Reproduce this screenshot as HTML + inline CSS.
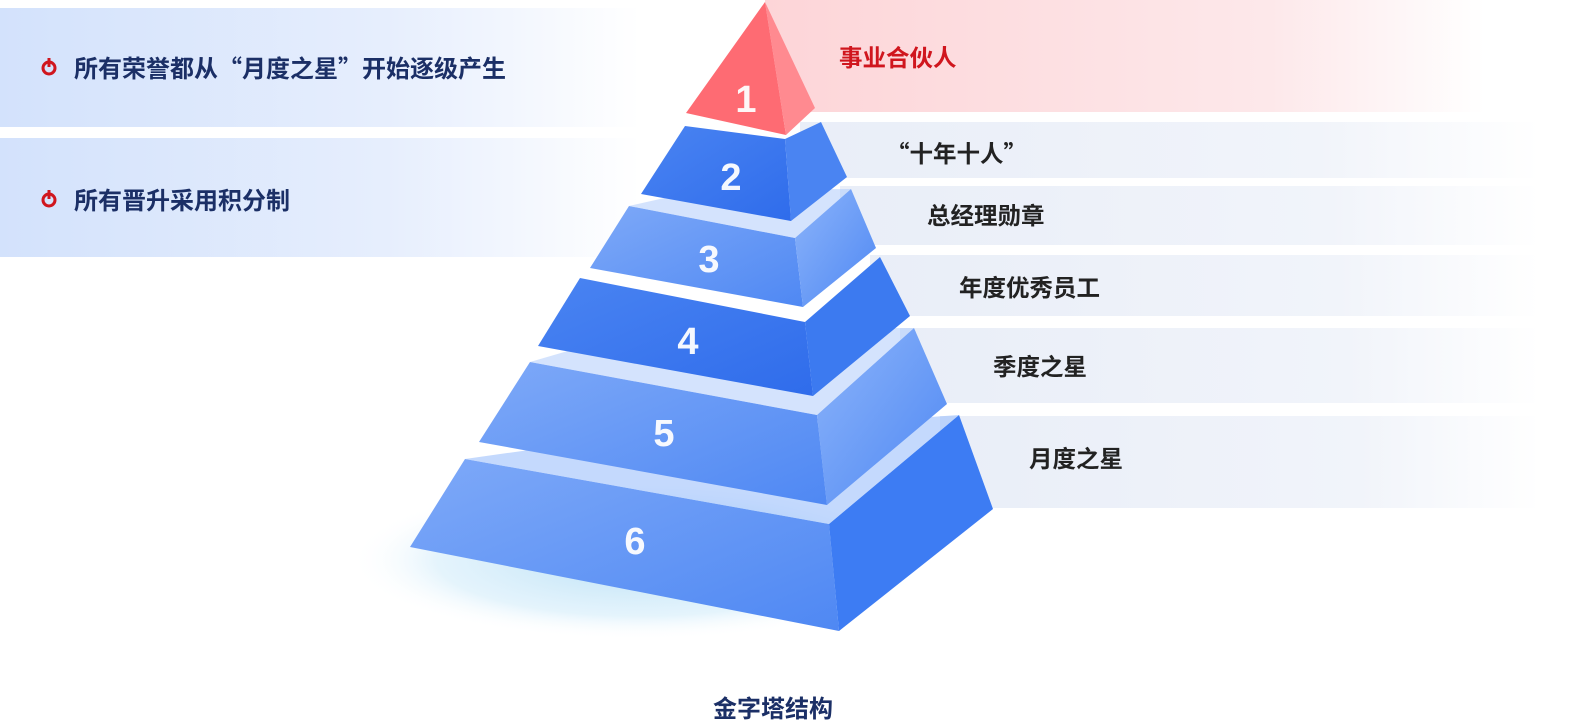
<!DOCTYPE html>
<html><head><meta charset="utf-8"><style>
html,body{margin:0;padding:0;background:#fff;width:1571px;height:723px;overflow:hidden}
svg{display:block}
text{font-family:"Liberation Sans","Noto Sans CJK SC",sans-serif;font-weight:bold}
.cjk{font-family:"Noto Sans CJK SC","Liberation Sans",sans-serif}
</style></head><body>
<svg width="1571" height="723" viewBox="0 0 1571 723" xmlns="http://www.w3.org/2000/svg">
<defs>
<linearGradient id="lb" x1="0" x2="1" y1="0" y2="0"><stop offset="0" stop-color="#d3e2fc"/><stop offset="0.6" stop-color="#e6eefd"/><stop offset="1" stop-color="#ffffff"/></linearGradient>
<linearGradient id="rb" x1="0" x2="1" y1="0" y2="0"><stop offset="0" stop-color="#fdd5d8"/><stop offset="0.7" stop-color="#fde8ea"/><stop offset="1" stop-color="#ffffff"/></linearGradient>
<linearGradient id="gb" x1="0" x2="1" y1="0" y2="0"><stop offset="0" stop-color="#e9eef8"/><stop offset="0.7" stop-color="#f1f4fa"/><stop offset="1" stop-color="#ffffff"/></linearGradient>
<linearGradient id="ff" x1="0" x2="1" y1="0" y2="1"><stop offset="0" stop-color="#7ea9f8"/><stop offset="1" stop-color="#4f88f3"/></linearGradient>
<linearGradient id="fd" x1="0" x2="1" y1="0" y2="1"><stop offset="0" stop-color="#4a84f2"/><stop offset="1" stop-color="#2f6ceb"/></linearGradient>
<linearGradient id="sf" x1="0" x2="1" y1="0" y2="1"><stop offset="0" stop-color="#8cb4fa"/><stop offset="1" stop-color="#4f88f3"/></linearGradient>
<radialGradient id="sh" cx="0.5" cy="0.5" r="0.5"><stop offset="0" stop-color="#b9e0f6"/><stop offset="0.7" stop-color="#d9effb" stop-opacity="0.7"/><stop offset="1" stop-color="#ffffff" stop-opacity="0"/></radialGradient>
</defs>
<rect x="0" y="8" width="640" height="119" fill="url(#lb)"/>
<rect x="0" y="138" width="640" height="119" fill="url(#lb)"/>
<rect x="765" y="0" width="720" height="112" fill="url(#rb)"/>
<rect x="800" y="122" width="740" height="56" fill="url(#gb)"/>
<rect x="840" y="186" width="700" height="59" fill="url(#gb)"/>
<rect x="870" y="255" width="670" height="61" fill="url(#gb)"/>
<rect x="900" y="328" width="640" height="75" fill="url(#gb)"/>
<rect x="940" y="416" width="600" height="92" fill="url(#gb)"/>
<ellipse cx="640" cy="560" rx="290" ry="80" fill="url(#sh)"/>
<polygon points="465,459 829,524 839,631 410,547" fill="url(#ff)"/>
<polygon points="829,524 959,415 993,509 839,631" fill="#3d7cf3"/>
<polygon points="465,459 829,524 959,415 600,440" fill="#9dc0fb" opacity="0.6"/>
<polygon points="530,362 817,415 827,505 479,442" fill="url(#ff)"/>
<polygon points="817,415 914,328 947,404 827,505" fill="url(#sf)"/>
<polygon points="530,362 817,415 914,328 640,330" fill="#a9c7fb" opacity="0.5"/>
<polygon points="580,278 805,322 813,396 538,346" fill="url(#fd)"/>
<polygon points="805,322 880,257 910,316 813,396" fill="#3c7af0"/>
<polygon points="629,206 795,238 803,307 590,268" fill="url(#ff)"/>
<polygon points="795,238 851,189 876,248 803,307" fill="url(#sf)"/>
<polygon points="629,206 795,238 851,189 700,190" fill="#a9c7fb" opacity="0.5"/>
<polygon points="685,126 785,139 791,221 641,194" fill="url(#fd)"/>
<polygon points="785,139 821,122 847,177 791,221" fill="#4a84f2"/>
<polygon points="765,2 786,135 686,113" fill="#fe6b73"/>
<polygon points="765,2 815,108 786,135" fill="#ff8a90"/>
<g fill="#fff" font-size="38" text-anchor="middle" opacity="0.95">
<text x="746" y="112">1</text>
<text x="731" y="190">2</text>
<text x="709" y="272">3</text>
<text x="688" y="354">4</text>
<text x="664" y="446">5</text>
<text x="635" y="554">6</text>
</g>
<g><circle cx="49" cy="68" r="6" fill="none" stroke="#d0161e" stroke-width="3"/><rect x="47.5" y="58" width="3" height="9" fill="#d0161e"/>
<circle cx="49" cy="200" r="6" fill="none" stroke="#d0161e" stroke-width="3"/><rect x="47.5" y="190" width="3" height="9" fill="#d0161e"/></g>
<g fill="#1b2f66" font-size="24" class="cjk">
<text x="74" y="77" class="cjk">所有荣誉都从“月度之星”开始逐级产生</text>
<text x="74" y="209" class="cjk">所有晋升采用积分制</text>
<text x="773" y="717" text-anchor="middle" class="cjk">金字塔结构</text>
</g>
<text x="839" y="66" fill="#d0161e" font-size="23.5" class="cjk">事业合伙人</text>
<g fill="#222" font-size="23.5">
<text x="886" y="162" class="cjk">“十年十人”</text>
<text x="927" y="224" class="cjk">总经理勋章</text>
<text x="959" y="296" class="cjk">年度优秀员工</text>
<text x="993" y="375" class="cjk">季度之星</text>
<text x="1029" y="467" class="cjk">月度之星</text>
</g>
</svg>
</body></html>
